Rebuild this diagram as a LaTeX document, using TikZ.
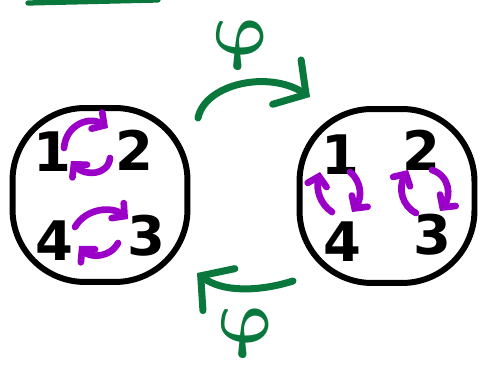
\documentclass[tikz,border=0pt]{standalone}
\usepackage{bm}
\usepackage{fontspec}
\setsansfont{DejaVu Sans}
\usetikzlibrary{arrows.meta}

\definecolor{mapgreen}{RGB}{10,120,60}
\definecolor{swappurple}{RGB}{155,0,200}

\begin{document}
\begin{tikzpicture}[
    x=0.02cm, y=-0.02cm,
    % --- STYLES ---
    orbit/.style={
        rectangle, draw=black, line width=3.4pt,
        rounded corners=1.45cm,
        minimum width=3.5cm, minimum height=3.48cm
    },
    vertex/.style={
        font=\fontsize{31}{31}\selectfont\sffamily\bfseries,
        inner sep=0pt
    },
    swap/.style={
        draw=swappurple, line width=3.8pt, line cap=round,
        -{Straight Barb[length=5pt, width=11pt, line cap=round]}
    },
    map/.style={
        draw=mapgreen, line width=4pt, line cap=round,
        -{Straight Barb[length=13pt, width=30pt, line cap=round]}
    },
    maplabel/.style={text=mapgreen, scale=1.7, xslant=-0.25,
        inner sep=0pt, font=\Huge}
]

% ===== 1. BOUNDS & STRAY STROKE =====
\useasboundingbox (0,0) rectangle (480,371);
\coordinate (strokeA) at (28,3);
\coordinate (strokeB) at (158,0);
\draw[mapgreen, line width=3pt, line cap=round] (strokeA) -- (strokeB);

% ===== 2. LEFT SQUARE =====
\node[orbit] (leftBox) at (100,195) {};
\node[vertex] (l1) at (52,152) {1};
\node[vertex] (l2) at (134,150) {2};
\node[vertex] (l4) at (54,241) {4};
\node[vertex] (l3) at (146,236) {3};

% ===== 3. RIGHT SQUARE =====
\node[orbit] (rightBox) at (387,196) {};
\node[vertex] (r1) at (340,155) {1};
\node[vertex] (r2) at (421,150) {2};
\node[vertex] (r4) at (342,242) {4};
\node[vertex] (r3) at (432,235) {3};

% ===== 4. MAP LABELS =====
\node[maplabel] (phiTop) at (242,45) {$\bm{\varphi}$};
\node[maplabel] (phiBot) at (247,333) {$\bm{\varphi}$};

% ===== 5. PURPLE SWAPS =====
% left square, top pair
\draw[swap] (64,148) .. controls (66,124) and (90,116) .. (108,128);
\draw[swap] (110,158) .. controls (108,176) and (84,176) .. (71,161);
% left square, bottom pair
\draw[swap] (75,227) .. controls (86,208) and (112,206) .. (128,219);
\draw[swap] (118,243) .. controls (110,258) and (90,258) .. (79,246);
% right square, 1 <-> 4
\draw[swap] (332,212) .. controls (320,204) and (316,190) .. (320,172);
\draw[swap] (350,172) .. controls (362,182) and (362,198) .. (352,212);
% right square, 2 <-> 3
\draw[swap] (416,213) .. controls (402,206) and (398,188) .. (408,170);
\draw[swap] (432,170) .. controls (450,176) and (451,196) .. (440,211);

% ===== 6. GREEN MAPS =====
\coordinate (topStart) at (198,118);
\coordinate (topEnd) at (310,97);
\coordinate (botStart) at (293,281);
\coordinate (botEnd) at (197,273);
\draw[map] (topStart) .. controls (205,84) and (268,70) .. (topEnd);
\draw[map] (botStart) .. controls (258,292) and (222,292) .. (botEnd);

\end{tikzpicture}
\end{document}
